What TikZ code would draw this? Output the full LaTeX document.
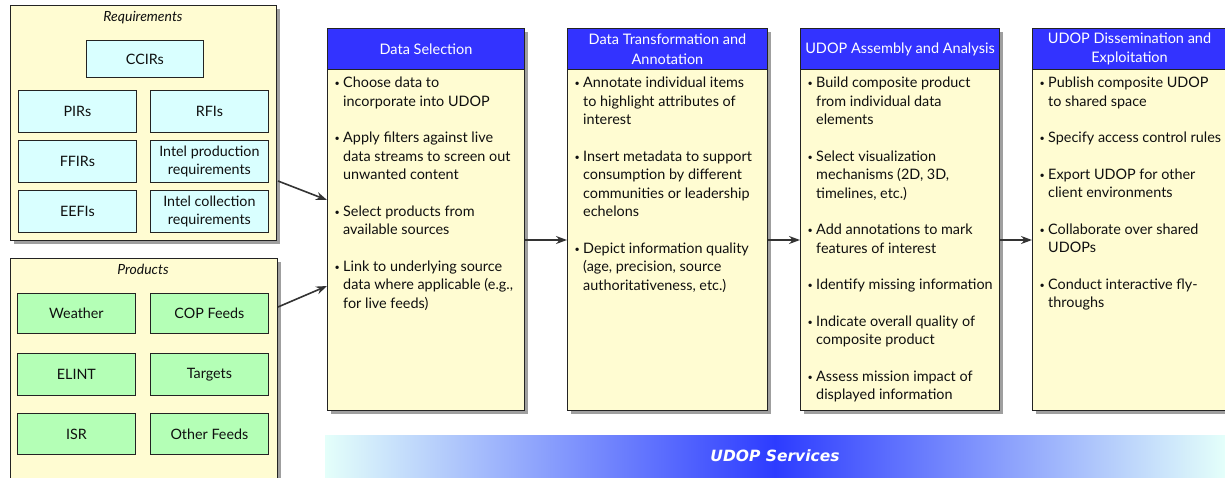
\documentclass[tikz,border=0pt]{standalone}
\usepackage{fontspec}
\setmainfont{Lato}
\newfontfamily\bandfont{DejaVu Sans}
\usetikzlibrary{arrows.meta,shadows,calc}
\definecolor{paleyellow}{RGB}{255,252,210}
\definecolor{palecyan}{RGB}{217,255,255}
\definecolor{palegreen}{RGB}{180,255,182}
\definecolor{hdrblue}{RGB}{51,51,255}
\definecolor{edgecol}{RGB}{35,35,35}
\definecolor{inktext}{RGB}{15,15,15}
\definecolor{barlight}{RGB}{228,255,250}
\definecolor{barblue}{RGB}{45,60,255}
\newcommand\bi{\makebox[9pt][l]{\hspace*{0.5pt}\raisebox{1.3pt}{\fontsize{9}{9}\selectfont\textbullet}}}
\newcommand\ind{\hspace*{9pt}}
\begin{document}
\begin{tikzpicture}[x=1pt,y=-1pt,
  grp/.style={draw=edgecol, line width=1pt, fill=paleyellow, anchor=north west, inner sep=0,
    drop shadow={shadow xshift=3pt, shadow yshift=-3pt, fill=gray!75, opacity=1}},
  grptitle/.style={font=\itshape\fontsize{14}{16}\selectfont, text=inktext},
  itm/.style={draw=edgecol, line width=0.8pt, anchor=north west, minimum width=118pt,
    minimum height=42pt, inner sep=1pt, align=center, text=inktext,
    font=\fontsize{14.3}{17.5}\selectfont},
  reqitem/.style={itm, fill=palecyan},
  proditem/.style={itm, fill=palegreen},
  colbody/.style={grp, minimum height=382pt},
  colhead/.style={draw=edgecol, line width=1pt, fill=hdrblue, anchor=north west,
    minimum height=41pt, inner sep=0, text=white, align=center,
    font=\fontsize{14.5}{19.5}\selectfont},
  bullets/.style={anchor=north west, align=left, inner sep=0, text=inktext,
    font=\fontsize{14.4}{18.5}\selectfont},
  arr/.style={-{Stealth[length=11pt,width=8pt]}, line width=1.6pt, draw=black!80},
  bar/.style={minimum width=900pt, minimum height=42pt, inner sep=0,
    left color=barlight, right color=barlight, middle color=barblue,
    text=white, font=\bandfont\bfseries\itshape\fontsize{15.5}{17}\selectfont}
]
\useasboundingbox (0,0) rectangle (1225,477);

% Requirements group
\node[grp, minimum width=266pt, minimum height=235pt] (req) at (10,5) {};
\node[grptitle] (reqt) at (143,18) {Requirements};
\node[reqitem] (ccir) at (86,40) [minimum width=117pt, minimum height=37pt] {CCIRs};
\node[reqitem] (pir) at (18,90) {PIRs};
\node[reqitem] (rfi) at (150,90) {RFIs};
\node[reqitem] (ffir) at (18,140) {FFIRs};
\node[reqitem] (iprod) at (150,140) {Intel production\\requirements};
\node[reqitem] (eefi) at (18,190) {EEFIs};
\node[reqitem] (icoll) at (150,190) {Intel collection\\requirements};

% Products group
\node[grp, minimum width=267pt, minimum height=225pt] (prod) at (10,258) {};
\node[grptitle] (prodt) at (143,269) {Products};
\node[proditem] (wx) at (17,293) [minimum height=40pt] {Weather};
\node[proditem] (cop) at (150,293) [minimum height=40pt] {COP Feeds};
\node[proditem] (elint) at (17,353) {ELINT};
\node[proditem] (tgt) at (150,353) {Targets};
\node[proditem] (isr) at (17,413) [minimum height=41pt] {ISR};
\node[proditem] (oth) at (150,413) [minimum height=41pt] {Other Feeds};

% Columns
\node[colbody, minimum width=197pt] (ds) at (327,28) {};
\node[colhead, minimum width=197pt] (dsh) at (327,28) {Data Selection};
\node[bullets] (dsb) at (334,77) {%
\bi Choose data to\\ \ind incorporate into UDOP\\[18pt]
\bi Apply filters against live\\ \ind data streams to screen out\\ \ind unwanted content\\[18pt]
\bi Select products from\\ \ind available sources\\[18pt]
\bi Link to underlying source\\ \ind data where applicable (e.g.,\\ \ind for live feeds)};

\node[colbody, minimum width=200pt] (dt) at (567,28) {};
\node[colhead, minimum width=200pt] (dth) at (567,28) {Data Transformation and\\Annotation};
\node[bullets] (dtb) at (574,77) {%
\bi Annotate individual items\\ \ind to highlight attributes of\\ \ind interest\\[18pt]
\bi Insert metadata to support\\ \ind consumption by different\\ \ind communities or leadership\\ \ind echelons\\[18pt]
\bi Depict information quality\\ \ind (age, precision, source\\ \ind authoritativeness, etc.)};

\node[colbody, minimum width=199pt] (ua) at (800,28) {};
\node[colhead, minimum width=199pt] (uah) at (800,28) {UDOP Assembly and Analysis};
\node[bullets] (uab) at (807,77) {%
\bi Build composite product\\ \ind from individual data\\ \ind elements\\[18pt]
\bi Select visualization\\ \ind mechanisms (2D, 3D,\\ \ind timelines, etc.)\\[18pt]
\bi Add annotations to mark\\ \ind features of interest\\[18pt]
\bi Identify missing information\\[18pt]
\bi Indicate overall quality of\\ \ind composite product\\[18pt]
\bi Assess mission impact of\\ \ind displayed information};

\node[colbody, minimum width=210pt] (de) at (1032,28) {};
\node[colhead, minimum width=210pt] (deh) at (1032,28) {\hspace*{-16pt}UDOP Dissemination and\\\hspace*{-16pt}Exploitation};
\node[bullets] (deb) at (1039,77) {%
\bi Publish composite UDOP\\ \ind to shared space\\[18pt]
\bi Specify access control rules\\[18pt]
\bi Export UDOP for other\\ \ind client environments\\[18pt]
\bi Collaborate over shared\\ \ind UDOPs\\[18pt]
\bi Conduct interactive fly-\\ \ind throughs};

% Connectors
\draw[arr] ($(req.south east)+(1,-60)$) -- ($(ds.north west)+(0,172)$);
\draw[arr] ($(prod.north east)+(0,49)$) -- ($(ds.north west)+(0,258)$);
\draw[arr] ($(ds.north east)+(0,212)$) -- ($(dt.north west)+(0,212)$);
\draw[arr] ($(dt.north east)+(0,212)$) -- ($(ua.north west)+(0,212)$);
\draw[arr] ($(ua.north east)+(0,212)$) -- ($(de.north west)+(0,212)$);

% Services bar
\node[bar] (svc) at (775,456) {UDOP Services};
\end{tikzpicture}
\end{document}
